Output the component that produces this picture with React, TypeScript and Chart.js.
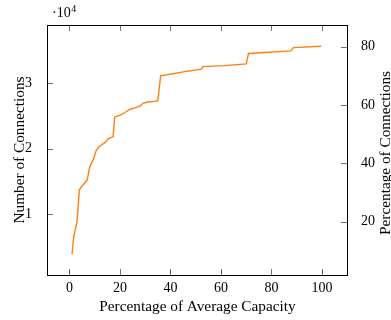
import React, { useEffect, useRef } from "react";
import { Chart, registerables } from "chart.js";

Chart.register(...registerables);

const capacity = [1, 1.7, 3, 3.9, 5, 7, 8, 9.5, 10.7, 12, 14, 15.3, 16.6, 17.3, 17.9, 20, 22, 24, 26, 28, 29.1, 31, 33.7, 35, 36.1, 41, 45, 52.2, 52.8, 61.4, 70, 70.9, 87.7, 88.7, 99.7];
const connections = [3900, 6600, 8900, 13700, 14300, 15200, 17200, 18400, 19800, 20400, 20900, 21500, 21700, 21800, 24800, 25100, 25500, 26000, 26200, 26500, 26900, 27100, 27200, 27300, 31100, 31400, 31700, 32100, 32500, 32650, 32900, 34500, 34900, 35400, 35600];
const totalConnections = 44400;

const xTicks = [0, 20, 40, 60, 80, 100];
const leftTicks = [10000, 20000, 30000];
const rightTicks = [20, 40, 60, 80];

const xTitle = "Percentage of Average Capacity";
const yTitle = "Number of Connections";
const y1Title = "Percentage of Connections";

const X_MIN = -8.9;
const X_MAX = 109.9;
const Y_MIN = 730;
const Y_MAX = 38840;

const FONT = "'Liberation Serif', 'DejaVu Serif', serif";

export default function App() {
  const ref = useRef<HTMLCanvasElement | null>(null);

  useEffect(() => {
    const canvas = ref.current;
    if (!canvas) return;

    const framePlugin = {
      id: "frame",
      afterDraw(chart: any) {
        const { ctx, chartArea } = chart;
        const { left, right, top, bottom } = chartArea;
        const sx = chart.scales.x;
        const sy = chart.scales.y;
        const sy1 = chart.scales.y1;
        ctx.save();
        // ticks
        ctx.strokeStyle = "rgba(0,0,0,0.55)";
        ctx.lineWidth = 1;
        const tl = 6;
        ctx.beginPath();
        xTicks.forEach((v) => {
          const px = Math.round(sx.getPixelForValue(v)) + 0.5;
          ctx.moveTo(px, bottom);
          ctx.lineTo(px, bottom - tl);
          ctx.moveTo(px, top);
          ctx.lineTo(px, top + tl);
        });
        leftTicks.forEach((v) => {
          const py = Math.round(sy.getPixelForValue(v)) + 0.5;
          ctx.moveTo(left, py);
          ctx.lineTo(left + tl, py);
        });
        rightTicks.forEach((v) => {
          const py = Math.round(sy1.getPixelForValue(v)) + 0.5;
          ctx.moveTo(right, py);
          ctx.lineTo(right - tl, py);
        });
        ctx.stroke();
        // frame
        ctx.strokeStyle = "#000";
        ctx.lineWidth = 1;
        ctx.strokeRect(Math.round(left) + 0.5, Math.round(top) + 0.5, Math.round(right - left), Math.round(bottom - top));
        // titles
        ctx.fillStyle = "#000";
        ctx.font = `15.3px ${FONT}`;
        ctx.textAlign = "center";
        ctx.textBaseline = "alphabetic";
        ctx.fillText(xTitle, (left + right) / 2 + 0.5, 311);
        ctx.save();
        ctx.translate(24, (top + bottom) / 2);
        ctx.rotate(-Math.PI / 2);
        ctx.fillText(yTitle, 0, 0);
        ctx.restore();
        ctx.save();
        ctx.translate(390, (top + bottom) / 2 + 3);
        ctx.rotate(-Math.PI / 2);
        ctx.fillText(y1Title, 0, 0);
        ctx.restore();
        // exponent label
        ctx.textAlign = "left";
        ctx.font = `14px ${FONT}`;
        ctx.fillText("\u00b710", 52, 17);
        const w = ctx.measureText("\u00b710").width;
        ctx.font = `10px ${FONT}`;
        ctx.fillText("4", 52 + w + 0.5, 11.5);
        ctx.restore();
      },
    };

    const chart = new Chart(canvas, {
      type: "line",
      data: {
        datasets: [
          {
            data: capacity.map((c, i) => ({ x: c, y: connections[i] })),
            borderColor: "#ff7f0e",
            borderWidth: 1.4,
            pointRadius: 0,
            fill: false,
            tension: 0,
            yAxisID: "y",
          },
        ],
      },
      options: {
        animation: false,
        responsive: false,
        maintainAspectRatio: false,
        layout: { padding: { top: 25, left: 0, right: 0, bottom: 0 } },
        plugins: {
          legend: { display: false },
          tooltip: { enabled: false },
        },
        scales: {
          x: {
            type: "linear",
            min: X_MIN,
            max: X_MAX,
            grid: { display: false },
            border: { display: false },
            afterBuildTicks: (s: any) => {
              s.ticks = xTicks.map((v) => ({ value: v }));
            },
            afterFit: (s: any) => {
              s.height = 45;
            },
            ticks: {
              color: "#000",
              font: { family: FONT, size: 14 },
              padding: -3,
              maxRotation: 0,
              callback: (v: any) => String(v),
            },
          },
          y: {
            type: "linear",
            position: "left",
            min: Y_MIN,
            max: Y_MAX,
            grid: { display: false },
            border: { display: false },
            afterBuildTicks: (s: any) => {
              s.ticks = leftTicks.map((v) => ({ value: v }));
            },
            afterFit: (s: any) => {
              s.width = 47;
            },
            ticks: {
              color: "#000",
              font: { family: FONT, size: 14 },
              padding: 7,
              callback: (v: any) => String(Number(v) / 10000),
            },
          },
          y1: {
            type: "linear",
            position: "right",
            min: (Y_MIN / totalConnections) * 100,
            max: (Y_MAX / totalConnections) * 100,
            grid: { display: false },
            border: { display: false },
            afterBuildTicks: (s: any) => {
              s.ticks = rightTicks.map((v) => ({ value: v }));
            },
            afterFit: (s: any) => {
              s.width = 44;
            },
            ticks: {
              color: "#000",
              font: { family: FONT, size: 14 },
              padding: 6,
              callback: (v: any) => String(v),
            },
          },
        },
      },
      plugins: [framePlugin],
    });

    return () => chart.destroy();
  }, []);

  return (
    <div style={{ position: "fixed", left: 0, top: 0, width: 391, height: 320, background: "#fff" }}>
      <canvas ref={ref} width={391} height={320} style={{ width: 391, height: 320 }} />
    </div>
  );
}
